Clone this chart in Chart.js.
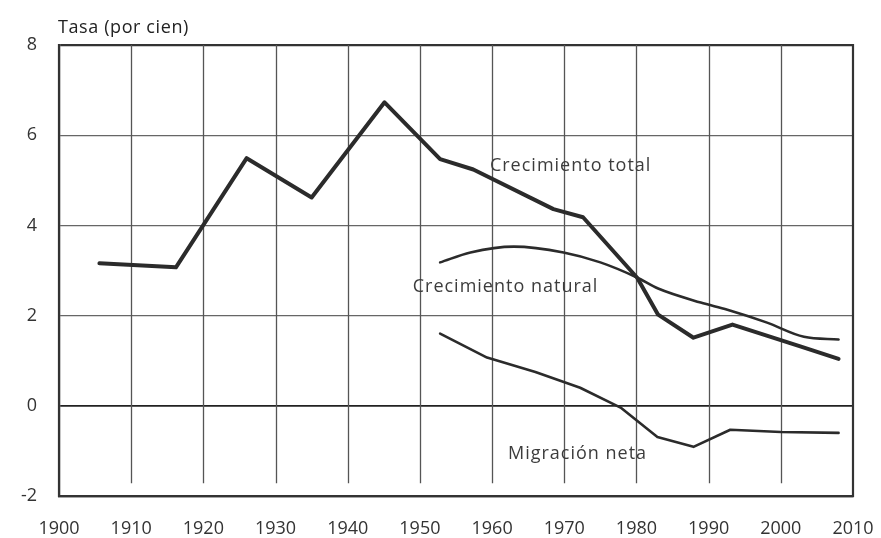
<!DOCTYPE html>
<html>
<head>
<meta charset="utf-8">
<script src="https://cdn.jsdelivr.net/npm/chart.js@4/dist/chart.umd.min.js"></script>
<style>
  html, body { margin: 0; padding: 0; background: #fff; }
  #wrap { width: 881px; height: 538px; }
</style>
</head>
<body>
<div id="wrap"><canvas id="c" width="881" height="538"></canvas></div>
<script>
// ---- Data ----
const yAxisTitle = 'Tasa (por cien)';
const xTicks = [1900, 1910, 1920, 1930, 1940, 1950, 1960, 1970, 1980, 1990, 2000, 2010];
const yTicks = [-2, 0, 2, 4, 6, 8];

const totalYears  = [1905.6, 1916.2, 1926, 1935, 1945.1, 1952.8, 1957.4, 1968.5, 1972.6, 1980.1, 1983, 1987.9, 1993.3, 2002.8, 2008];
const totalValues = [3.16, 3.07, 5.49, 4.62, 6.73, 5.47, 5.24, 4.36, 4.18, 2.84, 2.02, 1.51, 1.80, 1.31, 1.04];

const naturalYears  = [1952.8, 1957, 1963, 1969.9, 1975, 1980, 1983, 1988.9, 1992.6, 1998, 2003.2, 2008];
const naturalValues = [3.18, 3.40, 3.53, 3.40, 3.18, 2.85, 2.60, 2.29, 2.13, 1.85, 1.53, 1.47];

const migrationYears  = [1952.8, 1959.3, 1966, 1972.2, 1977.8, 1982.9, 1987.9, 1993, 2000, 2008];
const migrationValues = [1.60, 1.07, 0.75, 0.40, -0.04, -0.69, -0.91, -0.53, -0.58, -0.60];

const seriesLabels = ['Crecimiento total', 'Crecimiento natural', 'Migración neta'];
// label anchor (in data units)
const labelYears  = [1959.7, 1949.0, 1962.2];
const labelValues = [5.33, 2.64, -1.07];

function pts(xs, ys) { return xs.map((x, i) => ({ x: x, y: ys[i] })); }

const FONT = '"Open Sans", "DejaVu Sans", sans-serif';
const INK = '#2b2b2b';

const customDraw = {
  id: 'customDraw',
  beforeDatasetsDraw(chart) {
    const { ctx, chartArea: a, scales: { x, y } } = chart;
    ctx.save();
    ctx.strokeStyle = '#555';
    ctx.lineWidth = 1.3;
    const stopY = y.getPixelForValue(-1.72);
    xTicks.forEach(v => {
      if (v === xTicks[0] || v === xTicks[xTicks.length - 1]) return;
      const px = Math.round(x.getPixelForValue(v)) + 0.5;
      ctx.beginPath(); ctx.moveTo(px, a.top); ctx.lineTo(px, stopY); ctx.stroke();
    });
    ctx.strokeStyle = '#333';
    ctx.lineWidth = 2.2;
    [xTicks[0], xTicks[xTicks.length - 1]].forEach(v => {
      const px = x.getPixelForValue(v);
      ctx.beginPath(); ctx.moveTo(px, a.top - 1); ctx.lineTo(px, a.bottom + 1); ctx.stroke();
    });
    ctx.restore();
  },
  afterDatasetsDraw(chart) {
    const { ctx, chartArea: a, scales: { x, y } } = chart;
    ctx.save();
    ctx.fillStyle = '#3c3c3c';
    ctx.font = '18px ' + FONT;
    ctx.letterSpacing = '1px';
    ctx.textBaseline = 'middle';
    ctx.textAlign = 'left';
    seriesLabels.forEach((t, i) => {
      ctx.fillText(t, x.getPixelForValue(labelYears[i]), y.getPixelForValue(labelValues[i]));
    });
    ctx.fillStyle = '#222';
    ctx.font = '18px ' + FONT;
    ctx.letterSpacing = '0.6px';
    ctx.textBaseline = 'alphabetic';
    ctx.fillText(yAxisTitle, a.left - 1, a.top - 12);
    ctx.restore();
  }
};

new Chart(document.getElementById('c'), {
  type: 'line',
  data: {
    datasets: [
      { label: seriesLabels[0], data: pts(totalYears, totalValues), borderColor: INK, borderWidth: 4, pointRadius: 0, tension: 0, borderJoinStyle: 'round', borderCapStyle: 'round' },
      { label: seriesLabels[1], data: pts(naturalYears, naturalValues), borderColor: INK, borderWidth: 2.6, pointRadius: 0, tension: 0.3, cubicInterpolationMode: 'monotone', borderJoinStyle: 'round', borderCapStyle: 'round' },
      { label: seriesLabels[2], data: pts(migrationYears, migrationValues), borderColor: INK, borderWidth: 2.6, pointRadius: 0, tension: 0, borderJoinStyle: 'round', borderCapStyle: 'round' }
    ]
  },
  options: {
    responsive: false,
    animation: false,
    layout: { padding: { top: 45, right: 28, left: 0, bottom: 0 } },
    plugins: { legend: { display: false }, tooltip: { enabled: false } },
    scales: {
      x: {
        type: 'linear', min: 1900, max: 2010,
        afterBuildTicks: s => { s.ticks = xTicks.map(v => ({ value: v })); },
        afterFit: s => { s.height = 42; s.paddingRight = 0; s.paddingLeft = 0; },
        grid: { display: false, drawTicks: false },
        border: { display: true, color: '#333', width: 2.2 },
        ticks: { padding: 22, color: '#333', font: { family: FONT, size: 18 }, callback: v => String(v), maxRotation: 0, autoSkip: false }
      },
      y: {
        type: 'linear', min: -2, max: 8,
        afterBuildTicks: s => { s.ticks = yTicks.map(v => ({ value: v })); },
        afterFit: s => { s.width = 59; s.paddingTop = 0; s.paddingBottom = 0; },
        grid: {
          drawTicks: false,
          color: c => (c.tick.value === 0 ? '#222' : (c.tick.value === 8 || c.tick.value === -2 ? '#333' : '#666')),
          lineWidth: c => (c.tick.value === 0 ? 1.8 : (c.tick.value === 8 || c.tick.value === -2 ? 2.2 : 1.3))
        },
        border: { display: true, color: '#333', width: 2.2 },
        ticks: { padding: 22, color: '#333', font: { family: FONT, size: 18 }, callback: v => String(v) }
      }
    }
  },
  plugins: [customDraw]
});
</script>
</body>
</html>
